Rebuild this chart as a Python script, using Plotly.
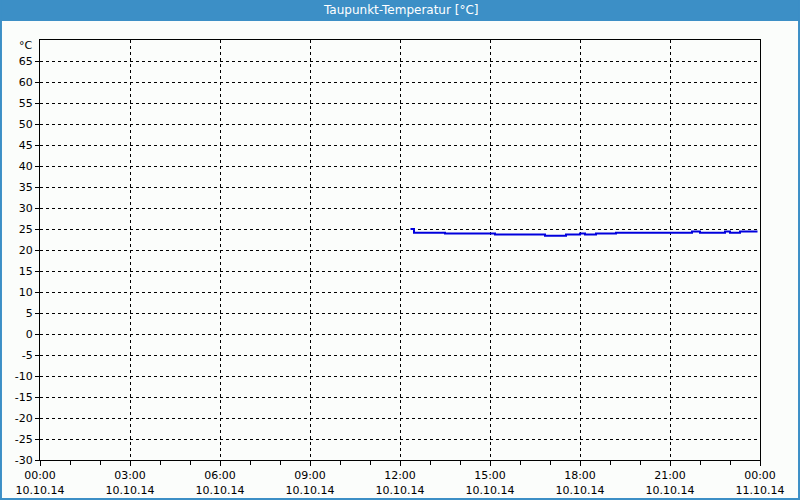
import plotly.graph_objects as go

# Data (time, dew point °C)
times = ["2014-10-10 12:21", "2014-10-10 12:28", "2014-10-10 13:30", "2014-10-10 15:10",
         "2014-10-10 16:50", "2014-10-10 17:32", "2014-10-10 18:00", "2014-10-10 18:10",
         "2014-10-10 18:32", "2014-10-10 19:12", "2014-10-10 21:44", "2014-10-10 22:00",
         "2014-10-10 22:50", "2014-10-10 23:00", "2014-10-10 23:20", "2014-10-10 23:55"]
values = [25.0, 24.1, 23.9, 23.7, 23.4, 23.7, 23.9, 23.7, 23.9, 24.1, 24.4, 24.1, 24.4, 24.1, 24.4, 24.4]

x_ticks = ["2014-10-10 00:00", "2014-10-10 03:00", "2014-10-10 06:00", "2014-10-10 09:00",
           "2014-10-10 12:00", "2014-10-10 15:00", "2014-10-10 18:00", "2014-10-10 21:00",
           "2014-10-11 00:00"]
x_labels = ["00:00<br>10.10.14", "03:00<br>10.10.14", "06:00<br>10.10.14", "09:00<br>10.10.14",
            "12:00<br>10.10.14", "15:00<br>10.10.14", "18:00<br>10.10.14", "21:00<br>10.10.14",
            "00:00<br>11.10.14"]
y_ticks = list(range(-30, 70, 5))

title = "Taupunkt-Temperatur [°C]"
unit = "°C"

fig = go.Figure()
fig.add_trace(go.Scatter(x=times, y=values, mode="lines", line=dict(color="#0000dd", width=2, shape="hv"),
                         showlegend=False, hoverinfo="skip"))

font = dict(family="DejaVu Sans", size=11, color="black")
blue = "#3c8fc6"

fig.update_layout(
    width=800, height=500,
    margin=dict(l=40, r=40, t=40, b=40),
    paper_bgcolor="#fbfdfb", plot_bgcolor="#fbfdfb",
    font=font,
    xaxis=dict(type="date", range=["2014-10-10 00:00", "2014-10-11 00:00"],
               tickmode="array", tickvals=x_ticks, ticktext=x_labels,
               showgrid=True, gridcolor="black", gridwidth=1, griddash="3px,3px",
               showline=True, linecolor="black", linewidth=1, mirror=True,
               ticks="outside", ticklen=5, tickcolor="black",
               minor=dict(ticks="outside", dtick=3600000, ticklen=4, tickcolor="black", showgrid=False),
               zeroline=False, fixedrange=True, automargin=False),
    yaxis=dict(range=[-30, 70], tickmode="array", tickvals=y_ticks,
               ticktext=[str(v) for v in y_ticks],
               showgrid=True, gridcolor="black", gridwidth=1, griddash="3px,3px",
               showline=True, linecolor="black", linewidth=1, mirror=True,
               ticks="outside", ticklen=4, tickcolor="black",
               zeroline=False, fixedrange=True, automargin=False),
    shapes=[
        dict(type="rect", xref="paper", yref="paper", x0=-0.06, x1=1.06, y0=1.045, y1=1.1,
             fillcolor=blue, line=dict(width=0), layer="above"),
        dict(type="line", xref="paper", yref="paper", x0=-0.0542, x1=-0.0542, y0=-0.1, y1=1.1,
             line=dict(color=blue, width=2)),
        dict(type="line", xref="paper", yref="paper", x0=1.0542, x1=1.0542, y0=-0.1, y1=1.1,
             line=dict(color=blue, width=2)),
        dict(type="line", xref="paper", yref="paper", x0=-0.06, x1=1.06, y0=-0.0929, y1=-0.0929,
             line=dict(color=blue, width=2)),
    ],
    annotations=[
        dict(text=title, xref="paper", yref="paper", x=0.5, y=1.0714, showarrow=False,
             font=dict(family="DejaVu Sans", size=12, color="white"), xanchor="center", yanchor="middle"),
        dict(text=unit, xref="paper", yref="paper", x=-0.007, y=0.987, showarrow=False,
             xanchor="right", yanchor="middle", font=font),
    ],
)

fig.write_html("out.html")
